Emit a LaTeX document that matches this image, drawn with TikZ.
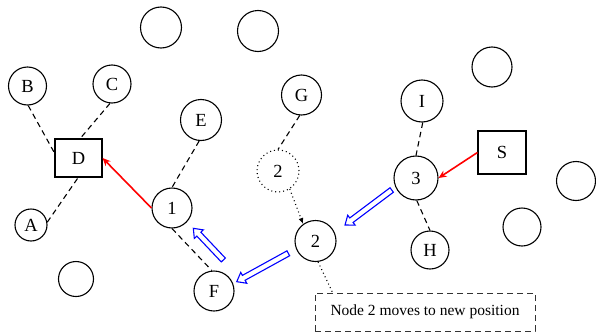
\documentclass[tikz,border=0pt]{standalone}
\usepackage{fontspec}
\setmainfont{Liberation Serif}
\usetikzlibrary{arrows.meta,calc}
\newcommand\hollowarrow[2]{%
  \draw[blockarrow] let \p1=($(#2)-(#1)$), \n1={atan2(\y1,\x1)}, \n2={veclen(\x1,\y1)} in
    [shift={(#1)}, rotate=\n1] (0,-2.8) -- ({\n2-8},-2.8) -- ({\n2-8},-6.2) -- (\n2,0)
    -- ({\n2-8},6.2) -- ({\n2-8},2.8) -- (0,2.8) -- cycle;}
\begin{document}
\begin{tikzpicture}[x=1pt,y=1pt,
  every node/.style={font=\fontsize{18.5}{20}\selectfont, line width=1.1pt, inner sep=0pt},
  nd/.style={circle, draw, minimum size=#1},
  nd/.default=40pt,
  sq/.style={rectangle, draw, minimum width=#1},
  link/.style={line width=1.1pt, dash pattern=on 5.5pt off 4pt},
  boxline/.style={draw=black!80, line width=0.9pt, dash pattern=on 6pt off 4pt},
  redarrow/.style={red, line width=1.6pt, -{Stealth[length=8pt,width=7pt]}},
  dotline/.style={line width=1.1pt, dash pattern=on 1pt off 3pt},
  blockarrow/.style={blue, line width=1.1pt, line join=miter}
]
\useasboundingbox (0,0) rectangle (596,333);
% empty circles
\node[nd=41pt] (t1) at (161,305.5) {};
\node[nd=41pt] (t2) at (258,302) {};
\node[nd=40pt] (t3) at (492,266) {};
\node[nd=39pt] (r1) at (576,152) {};
\node[nd=38pt] (r2) at (522,106) {};
\node[nd=35pt] (e1) at (76,54) {};
% labelled nodes
\node[nd=38pt] (B) at (27.5,247) {B};
\node[nd=38pt] (C) at (112,249) {C};
\node[nd=41pt] (E) at (201,213) {E};
\node[nd=40pt] (G) at (301.5,238) {G};
\node[nd=42pt] (I) at (422,232) {I};
\node[sq=47pt, minimum height=38pt] (D) at (78.5,175) {D};
\node[sq=48pt, minimum height=43pt] (S) at (502,180.5) {S};
\node[nd=40pt] (n1) at (172,125) {1};
\node[nd=42pt, dotline] (o2) at (278,162) {2};
\node[nd=44pt] (n3) at (416,155) {3};
\node[nd=32pt] (A) at (31,108) {A};
\node[nd=38pt] (H) at (430,83) {H};
\node[nd=41pt] (n2) at (315.5,92) {2};
\node[nd=40pt] (F) at (214,42) {F};
\node[boxline, minimum width=220pt, minimum height=38pt, font=\fontsize{15.5}{17}\selectfont] (box) at (425,21) {Node 2 moves to new position};
% dashed links
\draw[link] (B.-88) -- (D.168);
\draw[link] (C.-96) -- (D.85);
\draw[link] (A.10) -- (D.-91);
\draw[link] (E.-95) -- (n1.90);
\draw[link] (n1.-90) -- (F.96);
\draw[link] (G.-95) -- (o2.90);
\draw[link] (I.-88) -- (n3.90);
\draw[link] (n3.-88) -- (H.90);
% dotted move
\draw[dotline, -{Latex[length=6pt,width=5pt]}] (o2.-57) -- (n2.126);
\draw[dotline] (n2.-83) -- ($(box.north west)+(18,0)$);
% red arrows
\draw[redarrow] (n1.west) -- (D.east);
\draw[redarrow] (S.west) -- (n3.east);
% blue hollow arrows
\coordinate (a1) at (391.7,143);
\coordinate (b1) at (345,108);
\coordinate (a2) at (288.3,79.7);
\coordinate (b2) at (236.7,51.3);
\coordinate (a3) at (223.3,73);
\coordinate (b3) at (193.3,104.7);
\hollowarrow{a1}{b1}
\hollowarrow{a2}{b2}
\hollowarrow{a3}{b3}
\end{tikzpicture}
\end{document}
